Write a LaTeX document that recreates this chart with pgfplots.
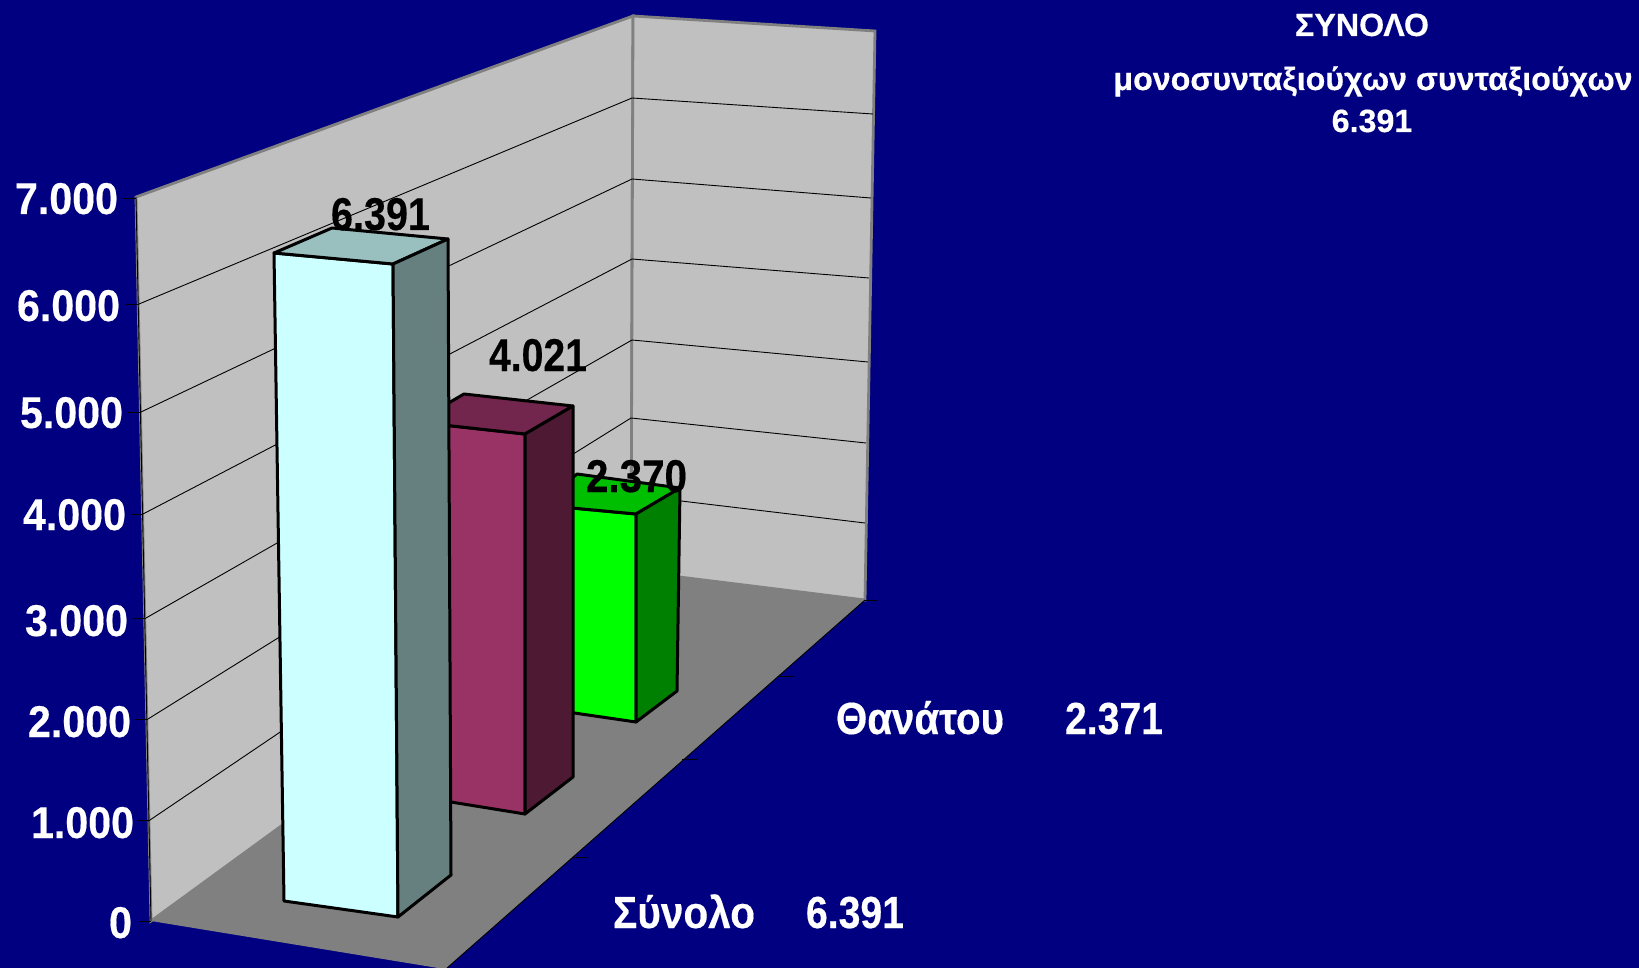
\documentclass[border=0pt]{standalone}
\usepackage{fontspec}
\usepackage{graphicx}
\usepackage{pgfplots}
\pgfplotsset{compat=1.18}
\setmainfont[BoldFeatures={FakeBold=0.35}]{Liberation Sans}
\definecolor{bgnavy}{HTML}{000080}
\definecolor{wall}{HTML}{C0C0C0}
\definecolor{floorc}{HTML}{808080}
\definecolor{aF}{HTML}{CCFFFF}\definecolor{aT}{HTML}{99BFBF}\definecolor{aS}{HTML}{668080}
\definecolor{bF}{HTML}{993366}\definecolor{bT}{HTML}{73264D}\definecolor{bS}{HTML}{4D1933}
\definecolor{cF}{HTML}{00FF00}\definecolor{cT}{HTML}{00BF00}\definecolor{cS}{HTML}{008000}
\newcommand{\lab}[6]{\node[anchor=base west,inner sep=0pt,outer sep=0pt,text=#6] at (axis cs:#1,#2) {\fontsize{#3}{#3}\selectfont\bfseries\resizebox{#4pt}{\height}{#5}};}
\newcommand{\cen}[4]{\node[anchor=base,inner sep=0pt,outer sep=0pt,text=white] at (axis cs:#1,#2) {\fontsize{#3}{#3}\selectfont\bfseries #4};}
\newcommand{\face}[2]{\addplot[fill=#1,draw=black,line width=3pt,line join=round] coordinates {#2} --cycle;}
\newcommand{\gl}[1]{\addplot[black,line width=0.9pt] coordinates {#1};}
\begin{document}
\begin{tikzpicture}
\begin{axis}[scale only axis,width=1639pt,height=968pt,xmin=0,xmax=1639,ymin=0,ymax=968,y dir=reverse,hide axis,clip=true]
% background
\addplot[fill=bgnavy,draw=none] coordinates {(0,0)(1639,0)(1639,968)(0,968)} --cycle;
% walls
\addplot[fill=wall,draw=floorc,line width=2.8pt] coordinates {(136,197)(633,16)(631,571)(151,921)} --cycle;
\addplot[fill=wall,draw=floorc,line width=2.8pt] coordinates {(633,16)(875,31)(865,600)(631,571)} --cycle;
% floor
\addplot[fill=floorc,draw=none] coordinates {(151,921)(631,571)(865,600)(447,968)(438,968)} --cycle;
\addplot[black,line width=0.9pt] coordinates {(865,600)(447,968)};
\addplot[black,line width=0.9pt] coordinates {(136,197)(151,921)};
% gridlines, left wall
\gl{(139,304)(632,98)} \gl{(141,412)(632,179)} \gl{(143,514)(632,259)}
\gl{(146,618)(632,340)} \gl{(148,719)(631,418)} \gl{(150,820)(631,495)}
% gridlines, right wall
\gl{(632,98)(873,114)} \gl{(632,179)(871,198)} \gl{(632,259)(869,278)}
\gl{(632,340)(868,362)} \gl{(631,418)(866,443)} \gl{(631,495)(865,523)}
% ticks
\gl{(123,198)(136,198)} \gl{(126,304)(139,304)} \gl{(128,412)(141,412)}
\gl{(131,514)(143,514)} \gl{(133,618)(146,618)} \gl{(135,719)(148,719)}
\gl{(137,820)(150,820)} \gl{(139,921)(151,921)}
\gl{(865,600)(877,600)} \gl{(779,676)(794,676)} \gl{(682,759)(697,759)} \gl{(573,857)(588,857)}
% green bar
\face{cF}{(540,505)(636,514)(636,722)(540,708)}
\face{cT}{(540,505)(577,474)(680,488)(636,514)}
\face{cS}{(636,514)(680,488)(677,691)(636,722)}
% maroon bar
\face{bF}{(416,422)(525,434)(525,814)(420,797)}
\face{bT}{(416,422)(464,394)(573,406)(525,434)}
\face{bS}{(525,434)(573,406)(573,777)(525,814)}
% pale bar
\face{aF}{(274,253)(393,264)(398,917)(284,901)}
\face{aT}{(274,253)(332,228)(448,239)(393,264)}
\face{aS}{(393,264)(448,239)(451,875)(398,917)}
% axis labels
\lab{15}{214}{44.5}{103}{7.000}{white}
\lab{17}{321}{44.5}{103}{6.000}{white}
\lab{20}{428}{44.5}{103}{5.000}{white}
\lab{23}{530}{44.5}{103}{4.000}{white}
\lab{25}{636}{44.5}{103}{3.000}{white}
\lab{28}{737}{44.5}{103}{2.000}{white}
\lab{31}{838}{44.5}{103}{1.000}{white}
\lab{109}{938}{44.5}{23}{0}{white}
% value labels
\lab{331}{230}{46}{99}{6.391}{black}
\lab{489}{371}{46}{98}{4.021}{black}
\lab{586}{492}{46}{101}{2.370}{black}
% category labels
\lab{836}{734}{45}{168}{Θανάτου}{white}
\lab{1065}{734}{45}{98}{2.371}{white}
\lab{613}{928}{45}{142}{Σύνολο}{white}
\lab{806}{928}{45}{98}{6.391}{white}
% header
\cen{1362}{36}{32.2}{ΣΥΝΟΛΟ}
\cen{1373}{90}{32.2}{μονοσυνταξιούχων συνταξιούχων}
\cen{1372}{132}{32.2}{6.391}
\end{axis}
\end{tikzpicture}
\end{document}
